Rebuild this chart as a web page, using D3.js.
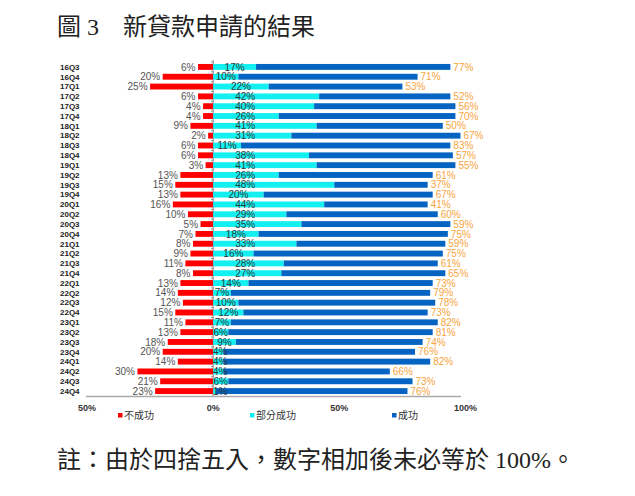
<!DOCTYPE html>
<html><head><meta charset="utf-8">
<script src="https://cdn.jsdelivr.net/npm/d3@7/dist/d3.min.js"></script>
<style>html,body{margin:0;padding:0;background:#fff;}svg{display:block;}</style>
</head><body>
<svg id="chart" width="635" height="496"></svg>
<script>
const categories = ["16Q3","16Q4","17Q1","17Q2","17Q3","17Q4","18Q1","18Q2","18Q3","18Q4","19Q1","19Q2","19Q3","19Q4","20Q1","20Q2","20Q3","20Q4","21Q1","21Q2","21Q3","21Q4","22Q1","22Q2","22Q3","22Q4","23Q1","23Q2","23Q3","23Q4","24Q1","24Q2","24Q3","24Q4"];
const failed  = [6,20,25,6,4,4,9,2,6,6,3,13,15,13,16,10,5,7,8,9,11,8,13,14,12,15,11,13,18,20,14,30,21,23];
const partial = [17,10,22,42,40,26,41,31,11,38,41,26,48,20,44,29,35,18,33,16,28,27,14,7,10,12,7,6,9,4,4,4,6,1];
const success = [77,71,53,52,56,70,50,67,83,57,55,61,37,67,41,60,59,75,59,75,61,65,73,79,78,73,82,81,74,76,82,66,73,76];
const tickValues = [-50, 0, 50, 100];
const tickLabels = ["50%", "0%", "50%", "100%"];
const seriesNames = ["不成功", "部分成功", "成功"];
const seriesColors = ["#ff0000", "#14f0f0", "#0563c1"];
const titleText = "圖 3　新貸款申請的結果";
const noteText = "註：由於四捨五入，數字相加後未必等於 100%。";

const svg = d3.select("#chart");
const sans = "'Liberation Sans', Arial, sans-serif";
const cjk = "'Liberation Serif', 'Noto Sans CJK TC', serif";

const x = d3.scaleLinear().domain([-50, 100]).range([87, 465.5]);
const y = d3.scaleBand().domain(categories).range([62, 396]).paddingInner(0.4).paddingOuter(0.2);
const bh = y.bandwidth();

// title
svg.append("text").attr("x", 57).attr("y", 35)
  .attr("font-family", cjk).attr("font-size", 24).attr("fill", "#222")
  .text(titleText);

const rows = categories.map((c, i) => ({c, f: failed[i], p: partial[i], s: success[i]}));
const g = svg.append("g");

// zero line with ticks
g.append("line").attr("x1", x(0)).attr("x2", x(0)).attr("y1", 60).attr("y2", 396)
  .attr("stroke", "#888").attr("stroke-width", 1);
g.selectAll(".zt").data(categories).enter().append("line")
  .attr("x1", x(0) - 2).attr("x2", x(0))
  .attr("y1", d => y(d) - y.step() * y.paddingInner() / 2)
  .attr("y2", d => y(d) - y.step() * y.paddingInner() / 2)
  .attr("stroke", "#888").attr("stroke-width", 1);

// bars
g.selectAll(".rf").data(rows).enter().append("rect")
  .attr("x", d => x(-d.f)).attr("y", d => y(d.c)).attr("width", d => x(0) - x(-d.f)).attr("height", bh)
  .attr("fill", seriesColors[0]);
g.selectAll(".rp").data(rows).enter().append("rect")
  .attr("x", x(0)).attr("y", d => y(d.c)).attr("width", d => x(d.p) - x(0)).attr("height", bh)
  .attr("fill", seriesColors[1]);
g.selectAll(".rs").data(rows).enter().append("rect")
  .attr("x", d => x(d.p)).attr("y", d => y(d.c)).attr("width", d => x(d.p + d.s) - x(d.p)).attr("height", bh)
  .attr("fill", seriesColors[2]);

// bottom axis line
g.append("line").attr("x1", 86).attr("x2", 461).attr("y1", 396.5).attr("y2", 396.5)
  .attr("stroke", "#aaa").attr("stroke-width", 1.5);

// category labels
g.selectAll(".cl").data(rows).enter().append("text")
  .attr("x", 60).attr("y", d => y(d.c) + bh / 2).attr("dy", "0.35em")
  .attr("font-family", sans).attr("font-size", 8).attr("font-weight", "bold").attr("fill", "#222")
  .text(d => d.c);

// value labels
g.selectAll(".lf").data(rows).enter().append("text")
  .attr("x", d => x(-d.f) - 2.5).attr("y", d => y(d.c) + bh / 2).attr("dy", "0.36em")
  .attr("text-anchor", "end").attr("font-family", sans).attr("font-size", 10).attr("fill", "#555")
  .text(d => d.f + "%");
g.selectAll(".lp").data(rows).enter().append("text")
  .attr("x", d => {
    const mid = (x(0) + x(d.p)) / 2;
    const half = (d.p >= 10 ? 20 : 14) / 2;
    return Math.max(x(0) + half, Math.min(mid, x(0) + 32));
  })
  .attr("y", d => y(d.c) + bh / 2).attr("dy", "0.36em")
  .attr("text-anchor", "middle").attr("font-family", sans).attr("font-size", 10).attr("fill", "#2a3b3b")
  .text(d => d.p + "%");
g.selectAll(".ls").data(rows).enter().append("text")
  .attr("x", d => x(d.p + d.s) + 3).attr("y", d => y(d.c) + bh / 2).attr("dy", "0.36em")
  .attr("font-family", sans).attr("font-size", 10).attr("fill", "#f8a53c")
  .text(d => d.s + "%");

// tick labels
g.selectAll(".tk").data(tickValues).enter().append("text")
  .attr("x", d => x(d)).attr("y", 411).attr("text-anchor", "middle")
  .attr("font-family", sans).attr("font-size", 9).attr("font-weight", "bold").attr("fill", "#333")
  .text((d, i) => tickLabels[i]);

// legend
const legX = [118, 250, 392];
const lg = g.selectAll(".lg").data(seriesNames).enter().append("g")
  .attr("transform", (d, i) => `translate(${legX[i]},413)`);
lg.append("rect").attr("width", 4.5).attr("height", 4.5).attr("fill", (d, i) => seriesColors[i]);
lg.append("text").attr("x", 6).attr("y", 2.3).attr("dy", "0.35em")
  .attr("font-family", "'Noto Sans CJK TC', sans-serif").attr("font-size", 10).attr("fill", "#333")
  .text(d => d);

// note
svg.append("text").attr("x", 57).attr("y", 468)
  .attr("font-family", cjk).attr("font-size", 24).attr("fill", "#222")
  .text(noteText);
</script>
</body></html>
